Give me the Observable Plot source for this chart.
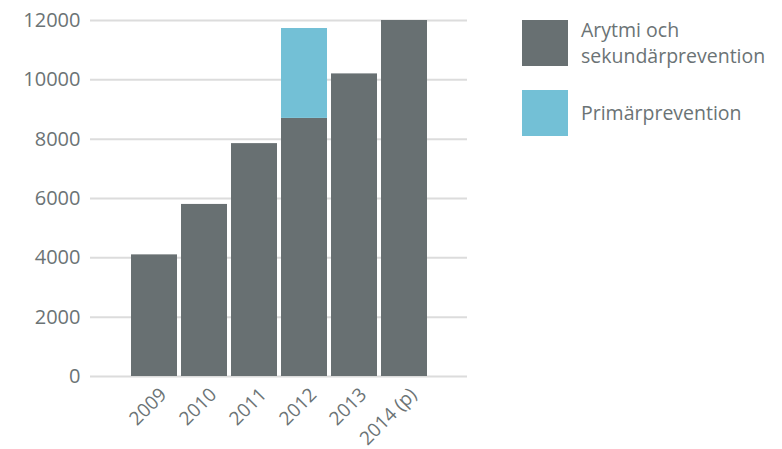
<!DOCTYPE html>
<html>
<head>
<meta charset="utf-8">
<script src="https://cdn.jsdelivr.net/npm/d3@7"></script>
<script src="https://cdn.jsdelivr.net/npm/@observablehq/plot@0.6"></script>
<style>
  html, body { margin: 0; padding: 0; background: #fff; }
  #wrap { position: relative; width: 782px; height: 449px; font-family: "Open Sans", sans-serif; }
  #legend { position: absolute; left: 522px; top: 17px; color: #6b7375; font-size: 19.5px; line-height: 26px; }
  .item { display: flex; align-items: center; margin-bottom: 21px; }
  .sw { width: 46px; height: 46px; flex: none; margin-right: 13px; }
</style>
</head>
<body>
<div id="wrap"><div id="chart"></div><div id="legend"></div></div>
<script>
const years = ["2009", "2010", "2011", "2012", "2013", "2014 (p)"];
const arytmi = [4100, 5800, 7850, 8700, 10200, 12000];
const primar = [0, 0, 0, 3030, 0, 0];
const seriesNames = ["Arytmi och sekundärprevention", "Primärprevention"];
const seriesLabels = [["Arytmi och", "sekundärprevention"], ["Primärprevention"]];
const colors = ["#687072", "#73c0d6"];
const yTicks = [0, 2000, 4000, 6000, 8000, 10000, 12000];

const data = [];
years.forEach((y, i) => {
  data.push({year: y, series: seriesNames[0], value: arytmi[i]});
  data.push({year: y, series: seriesNames[1], value: primar[i]});
});

const textColor = "#6b7375";
const chart = Plot.plot({
  width: 782,
  height: 449,
  marginLeft: 90,
  marginRight: 315,
  marginTop: 20,
  marginBottom: 73,
  style: {fontFamily: "'Open Sans', sans-serif", fontSize: "20px", color: textColor, background: "#fff", overflow: "visible"},
  x: {domain: years, paddingInner: 0.08, paddingOuter: 0.8, label: null},
  y: {domain: [0, 12000], ticks: yTicks, label: null},
  color: {domain: seriesNames, range: colors},
  marks: [
    Plot.ruleY(yTicks, {stroke: "#dcdcdc", strokeWidth: 2}),
    Plot.barY(data, Plot.stackY({x: "year", y: "value", fill: "series", order: seriesNames})),
    Plot.axisY({ticks: yTicks, tickSize: 0, tickPadding: 10, fontSize: 20, fill: textColor, tickFormat: d => String(d)}),
    Plot.axisX({tickSize: 0, tickPadding: 10, tickRotate: -45, fontSize: 19, fill: textColor, dx: 9, dy: 5})
  ]
});
document.getElementById("chart").appendChild(chart);

const legend = document.getElementById("legend");
seriesNames.forEach((s, i) => {
  const item = document.createElement("div");
  item.className = "item";
  const sw = document.createElement("div");
  sw.className = "sw";
  sw.style.background = colors[i];
  const t = document.createElement("div");
  t.innerHTML = seriesLabels[i].join("<br>");
  item.appendChild(sw);
  item.appendChild(t);
  legend.appendChild(item);
});
</script>
</body>
</html>
